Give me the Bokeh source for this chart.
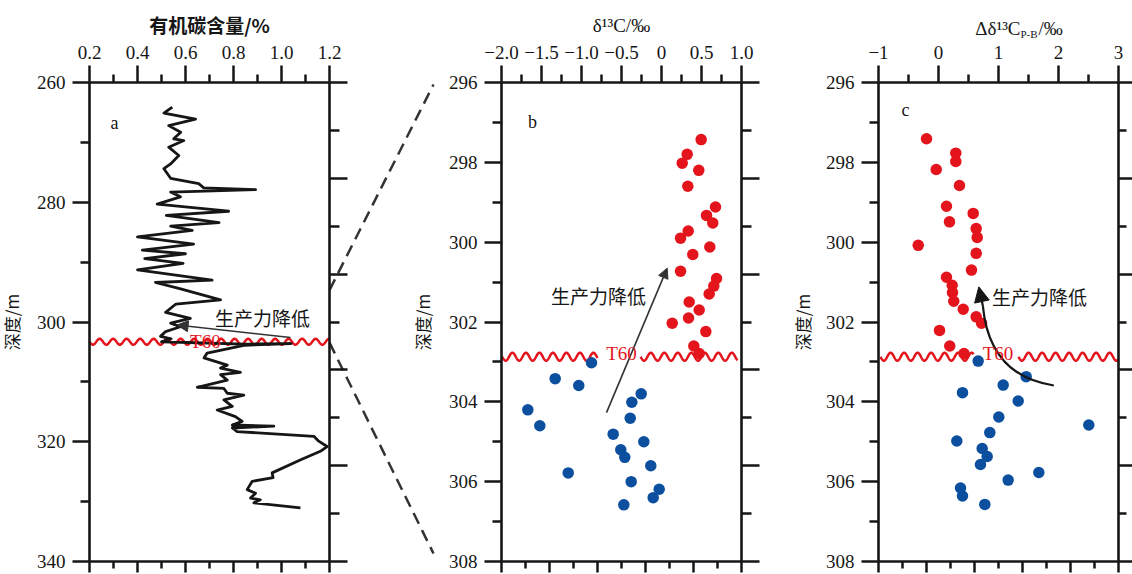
import numpy as np
from bokeh.plotting import figure
from bokeh.models import (Range1d, FixedTicker, LinearAxis, Arrow, NormalHead, Label,
                          CustomLabelingPolicy)
from bokeh.embed import file_html
from bokeh.resources import INLINE

# ---------------- data ----------------
# panel a: total organic carbon (%) vs depth (m)
toc_depth = [264.1, 265.1, 266.1, 267.2, 268.3, 269.4, 269.7, 270.8, 272.2, 273.6,
             274.4, 276.0, 276.9, 277.6, 277.9, 278.3, 279.1, 280.3, 281.5, 282.2,
             283.4, 284.0, 284.7, 285.8, 287.0, 288.0, 288.6, 289.4, 290.2, 291.3,
             293.0, 293.4, 294.4, 296.3, 297.0, 298.4, 299.4, 300.2, 300.8, 301.6,
             302.4, 302.8, 303.3, 303.7, 303.6, 303.9, 305.2, 306.0, 307.2, 307.7,
             308.4, 308.8, 309.7, 310.9, 311.1, 311.9, 312.2, 313.0, 314.1, 314.7,
             315.8, 316.6, 317.2, 317.4, 317.7, 318.3, 319.1, 319.9, 320.8, 321.6,
             323.0, 325.2, 326.0, 326.6, 328.0, 328.6, 329.4, 329.7, 330.2, 331.05]
toc_value = [0.545, 0.51, 0.642, 0.53, 0.58, 0.551, 0.593, 0.53, 0.572, 0.538,
             0.51, 0.538, 0.655, 0.676, 0.892, 0.538, 0.579, 0.482, 0.78, 0.52,
             0.74, 0.538, 0.628, 0.40, 0.634, 0.42, 0.60, 0.43, 0.59, 0.40,
             0.711, 0.475, 0.572, 0.746, 0.56, 0.517, 0.62, 0.538, 0.579, 0.517,
             0.496, 0.54, 0.50, 0.843, 1.04, 0.843, 0.69, 0.677, 0.774, 0.746,
             0.829, 0.746, 0.774, 0.649, 0.76, 0.774, 0.843, 0.76, 0.795, 0.732,
             0.808, 0.836, 0.795, 0.968, 0.795, 0.815, 1.135, 1.155, 1.19, 1.162,
             1.08, 0.961, 0.965, 0.878, 0.857, 0.892, 0.871, 0.912, 0.885, 1.079]

# panel b: d13C (permil), above T60 (red) and below T60 (blue)
b_red_x = [0.496, 0.321, 0.259, 0.466, 0.329, 0.675, 0.563, 0.641, 0.334, 0.238,
           0.604, 0.391, 0.238, 0.688, 0.654, 0.596, 0.346, 0.471, 0.338, 0.134,
           0.554, 0.404, 0.471]
b_red_d = [297.43, 297.80, 298.02, 298.20, 298.60, 299.12, 299.33, 299.52, 299.72, 299.90,
           300.12, 300.31, 300.73, 300.91, 301.10, 301.30, 301.50, 301.70, 301.90, 302.03,
           302.24, 302.60, 302.79]
b_blue_x = [-0.875, -1.329, -1.034, -1.671, -1.521, -0.254, -0.371, -0.391, -0.604, -0.221,
            -0.509, -0.459, -0.134, -1.166, -0.379, -0.029, -0.104, -0.471]
b_blue_d = [303.02, 303.42, 303.59, 304.20, 304.60, 303.80, 304.01, 304.41, 304.81, 305.00,
            305.20, 305.39, 305.60, 305.78, 306.00, 306.19, 306.40, 306.58]

# panel c: delta d13C (P-B)
c_red_x = [-0.20, 0.288, 0.288, -0.038, 0.35, 0.133, 0.578, 0.183, 0.628, 0.645,
           -0.338, 0.628, 0.55, 0.133, 0.228, 0.233, 0.255, 0.412, 0.628, 0.717,
           0.017, 0.188, 0.425]
c_red_d = [297.41, 297.77, 297.98, 298.18, 298.58, 299.10, 299.28, 299.49, 299.66, 299.88,
           300.08, 300.28, 300.70, 300.88, 301.08, 301.26, 301.48, 301.68, 301.87, 302.03,
           302.21, 302.60, 302.79]
c_blue_x = [0.661, 1.461, 1.078, 0.40, 1.328, 1.005, 2.505, 0.855, 0.305, 0.728,
            0.811, 0.70, 1.672, 1.161, 0.367, 0.40, 0.772]
c_blue_d = [302.98, 303.37, 303.58, 303.77, 303.98, 304.38, 304.58, 304.77, 304.98, 305.17,
            305.37, 305.57, 305.77, 305.96, 306.16, 306.36, 306.57]

# axis ticks
a_top_ticks = [0.2, 0.4, 0.6, 0.8, 1.0, 1.2]
a_top_labels = ["0.2", "0.4", "0.6", "0.8", "1.0", "1.2"]
a_top_minor = [0.3, 0.5, 0.7, 0.9, 1.1]
a_left_ticks = [260, 280, 300, 320, 340]
a_left_labels = ["260", "280", "300", "320", "340"]
a_left_minor = [270, 290, 310, 330]
a_right_ticks = [260, 276, 292, 308, 324, 340]
a_right_minor = [268, 284, 300, 316, 332]

b_top_ticks = [-2.0, -1.5, -1.0, -0.5, 0.0, 0.5, 1.0]
b_top_labels = ["\u22122.0", "\u22121.5", "\u22121.0", "\u22120.5", "0", "0.5", "1.0"]
b_top_minor = [-1.75, -1.25, -0.75, -0.25, 0.25, 0.75]
b_bottom_ticks = [-2.0, -1.4, -0.8, -0.2, 0.4, 1.0]
b_bottom_minor = [-1.7, -1.1, -0.5, 0.1, 0.7]

c_top_ticks = [-1, 0, 1, 2, 3]
c_top_labels = ["\u22121", "0", "1", "2", "3"]
c_top_minor = [-0.5, 0.5, 1.5, 2.5]
c_bottom_ticks = [-1.0, -0.2, 0.6, 1.4, 2.2, 3.0]
c_bottom_minor = [-0.6, 0.2, 1.0, 1.8, 2.6]

bc_left_ticks = [296, 298, 300, 302, 304, 306, 308]
bc_left_labels = ["296", "298", "300", "302", "304", "306", "308"]
bc_left_minor = [297, 299, 301, 303, 305, 307]
bc_right_ticks = [296, 298.4, 300.8, 303.2, 305.6, 308]
bc_right_minor = [297.2, 299.6, 302.0, 304.4, 306.8]

# unconformity T60 depth in each panel
t60_a = 303.3
t60_bc = 302.87

# ---------------- layout / style ----------------
SERIF = "Liberation Serif"
CJK = "Noto Sans CJK SC"
INK = "#161616"
RED = "#e3141c"
BLUE = "#0b4f9e"
W, H = 1132, 574
FT, FB = 82, 561                 # frame top / bottom (canvas px)
A_L, A_R = 89, 329               # panel frames (canvas px)
B_L, B_R = 501, 741
C_L, C_R = 878, 1118
A_X, B_X, C_X = (0.2, 1.2), (-2.0, 1.0), (-1.0, 3.0)
A_Y, BC_Y = (260.0, 340.0), (296.0, 308.0)


def x_range(l, r, lim):
    s = (lim[1] - lim[0]) / (r - l)
    return Range1d(lim[0] - l * s, lim[1] + (W - r) * s)


def y_range(lim):
    s = (lim[1] - lim[0]) / (FB - FT)
    return Range1d(lim[1] + (H - FB) * s, lim[0] - FT * s)


def px_to_data(l, r, xlim, ylim, px, py):
    return (xlim[0] + (px - l) * (xlim[1] - xlim[0]) / (r - l),
            ylim[0] + (py - FT) * (ylim[1] - ylim[0]) / (FB - FT))


def data_to_px(l, r, xlim, ylim, x, y):
    return (l + (x - xlim[0]) * (r - l) / (xlim[1] - xlim[0]),
            FT + (y - ylim[0]) * (FB - FT) / (ylim[1] - ylim[0]))


p = figure(width=W, height=H, x_range=x_range(A_L, A_R, A_X), y_range=y_range(A_Y),
           x_axis_type=None, y_axis_type=None, min_border=0,
           output_backend="svg", toolbar_location=None)
p.extra_x_ranges = {"b": x_range(B_L, B_R, B_X), "c": x_range(C_L, C_R, C_X)}
p.extra_y_ranges = {"bc": y_range(BC_Y)}
p.xgrid.visible = False
p.ygrid.visible = False
p.outline_line_color = None
p.background_fill_color = "white"
p.border_fill_color = "white"

NO_LABELS = CustomLabelingPolicy(code="""
try { return new indices.constructor(indices.size, 0) }
catch (e) { for (const i of [...indices]) { indices.unset(i) } return indices }
""")


def style(ax, major, minor, tout, mout, labels=None, standoff=4):
    ax.ticker = FixedTicker(ticks=major, minor_ticks=minor)
    ax.axis_line_width = 2.6
    ax.axis_line_color = INK
    ax.major_tick_line_width = 2.5
    ax.minor_tick_line_width = 2.5
    ax.major_tick_line_color = INK
    ax.minor_tick_line_color = INK
    ax.major_tick_in = 0
    ax.minor_tick_in = 0
    ax.major_tick_out = tout
    ax.minor_tick_out = mout
    if labels is None:
        ax.major_label_policy = NO_LABELS
        ax.major_label_standoff = 0
    else:
        ax.major_label_overrides = {t: l for t, l in zip(major, labels)}
        ax.major_label_text_font = SERIF
        ax.major_label_text_font_size = "19px"
        ax.major_label_text_color = INK
        ax.major_label_standoff = standoff


def panel_axes(xn, yn, xlim, ylim, top, top_minor, top_labels, bottom, bottom_minor,
               left, left_minor, left_labels, right, right_minor, right_len, ylabel_standoff):
    ax = LinearAxis(x_range_name=xn, y_range_name=yn, fixed_location=ylim[0], bounds=xlim)
    style(ax, top, top_minor, 17, 8, top_labels, standoff=7)
    p.add_layout(ax, "above")
    top_axis = ax
    ax = LinearAxis(x_range_name=xn, y_range_name=yn, fixed_location=ylim[1], bounds=xlim)
    style(ax, bottom, bottom_minor, 11, 7)
    p.add_layout(ax, "below")
    ax = LinearAxis(x_range_name=xn, y_range_name=yn, fixed_location=xlim[0], bounds=ylim)
    style(ax, left, left_minor, 17, 9, left_labels, standoff=7)
    ax.axis_label = "深度/m"
    ax.axis_label_text_font = CJK
    ax.axis_label_text_font_size = "17px"
    ax.axis_label_text_font_style = "normal"
    ax.axis_label_text_color = INK
    ax.axis_label_standoff = ylabel_standoff
    p.add_layout(ax, "left")
    ax = LinearAxis(x_range_name=xn, y_range_name=yn, fixed_location=xlim[1], bounds=ylim)
    style(ax, right, right_minor, right_len[0], right_len[1])
    p.add_layout(ax, "right")
    return top_axis


def wave(x0, x1, center, amp, wavelength):
    xs = np.linspace(x0, x1, 400)
    return xs, center + amp * np.sin(2 * np.pi * (xs - x0) / wavelength)


def mark_text(x, y, text, xn="default", yn="default", size="19px", color=INK, font=CJK,
              align="center", baseline="middle"):
    p.add_layout(Label(x=x, y=y, text=text, text_font=font, text_font_size=size,
                       text_color=color, text_align=align, text_baseline=baseline,
                       x_range_name=xn, y_range_name=yn))


PX_PER_M_A = (FB - FT) / (A_Y[1] - A_Y[0])
PX_PER_M_BC = (FB - FT) / (BC_Y[1] - BC_Y[0])

# ---------------- panel a ----------------
ta = panel_axes("default", "default", A_X, A_Y, a_top_ticks, a_top_minor, a_top_labels,
                a_top_ticks, a_top_minor, a_left_ticks, a_left_minor, a_left_labels,
                a_right_ticks, a_right_minor, (18, 10), 10)
ta.axis_label = "有机碳含量/%"
ta.axis_label_text_font = CJK
ta.axis_label_text_font_size = "19px"
ta.axis_label_text_font_style = "bold"
ta.axis_label_text_color = INK
ta.axis_label_standoff = 5

wx, wy = wave(A_X[0], A_X[1], t60_a, 3.0 / PX_PER_M_A, 13.5 / (A_R - A_L))
p.line(wx, wy, line_color=RED, line_width=2.5)
p.line(toc_value, toc_depth, line_color=INK, line_width=2.8, line_join="round")
p.add_layout(Arrow(end=NormalHead(size=11, fill_color="#333333", line_color="#333333"),
                   x_start=1.0375, y_start=302.6, x_end=0.565, y_end=300.5,
                   line_color="#333333", line_width=1.6))
mark_text(0.921, 299.2, "生产力降低")
mark_text(0.683, 303.2, "T60", color=RED, font=SERIF)
mark_text(0.304, 266.8, "a", size="18px", font=SERIF)

# ---------------- panel b ----------------
tb = panel_axes("b", "bc", B_X, BC_Y, b_top_ticks, b_top_minor, b_top_labels,
                b_bottom_ticks, b_bottom_minor, bc_left_ticks, bc_left_minor, bc_left_labels,
                bc_right_ticks, bc_right_minor, (18, 10), 11)
tb.axis_label = "δ¹³C/‰"
tb.axis_label_text_font = SERIF
tb.axis_label_text_font_size = "19px"
tb.axis_label_text_font_style = "normal"
tb.axis_label_text_color = INK
tb.axis_label_standoff = 7

for seg in [(-1.99, -0.80), (-0.26, 0.95)]:
    wx, wy = wave(seg[0], seg[1], t60_bc, 4.0 / PX_PER_M_BC, 13.5 / 80.0)
    p.line(wx, wy, line_color=RED, line_width=2.5, x_range_name="b", y_range_name="bc")
p.scatter(b_red_x, b_red_d, size=11.5, fill_color=RED, line_color=None,
          x_range_name="b", y_range_name="bc")
p.scatter(b_blue_x, b_blue_d, size=11.5, fill_color=BLUE, line_color=None,
          x_range_name="b", y_range_name="bc")
p.add_layout(Arrow(end=NormalHead(size=10, fill_color="#333333", line_color="#333333"),
                   x_start=-0.6875, y_start=304.27, x_end=0.071, y_end=300.65,
                   line_color="#333333", line_width=1.6, x_range_name="b", y_range_name="bc"))
mark_text(-0.7875, 301.33, "生产力降低", "b", "bc")
mark_text(-0.5, 302.8, "T60", "b", "bc", color=RED, font=SERIF)
mark_text(-1.6125, 296.98, "b", "b", "bc", size="18px", font=SERIF)

# ---------------- panel c ----------------
panel_axes("c", "bc", C_X, BC_Y, c_top_ticks, c_top_minor, c_top_labels,
           c_bottom_ticks, c_bottom_minor, bc_left_ticks, bc_left_minor, bc_left_labels,
           bc_right_ticks, bc_right_minor, (14, 8), 8)

for seg in [(-0.967, 0.583), (1.333, 3.0)]:
    wx, wy = wave(seg[0], seg[1], t60_bc, 4.0 / PX_PER_M_BC, 13.5 / 60.0)
    p.line(wx, wy, line_color=RED, line_width=2.5, x_range_name="c", y_range_name="bc")
p.scatter(c_red_x, c_red_d, size=11.5, fill_color=RED, line_color=None,
          x_range_name="c", y_range_name="bc")
p.scatter(c_blue_x, c_blue_d, size=11.5, fill_color=BLUE, line_color=None,
          x_range_name="c", y_range_name="bc")
# curved arrow
p.quadratic(x0=[1.922], y0=[303.59], x1=[0.74], y1=[301.6], cx=[0.85], cy=[303.35],
            line_color=INK, line_width=2.2, x_range_name="c", y_range_name="bc")
p.add_layout(Arrow(end=NormalHead(size=15, fill_color=INK, line_color=INK),
                   x_start=0.74, y_start=301.6, x_end=0.672, y_end=301.12,
                   line_color=INK, line_width=2.2, x_range_name="c", y_range_name="bc"))
mark_text(1.683, 301.35, "生产力降低", "c", "bc")
mark_text(0.992, 302.8, "T60", "c", "bc", color=RED, font=SERIF)
mark_text(-0.55, 296.7, "c", "c", "bc", size="18px", font=SERIF)

# panel c title with subscript (placed above the frame)
tx, ty = px_to_data(C_L, C_R, C_X, BC_Y, C_L + 142, 28)
_, ty_sub = px_to_data(C_L, C_R, C_X, BC_Y, 0, 33)
tx2, _ = px_to_data(C_L, C_R, C_X, BC_Y, C_L + 160, 0)
mark_text(tx, ty, "Δδ¹³C", "c", "bc", font=SERIF, align="right", baseline="alphabetic")
mark_text(tx, ty_sub, "P-B", "c", "bc", size="11px", font=SERIF, align="left",
          baseline="alphabetic")
mark_text(tx2, ty, "/‰", "c", "bc", font=SERIF, align="left", baseline="alphabetic")

# ---------------- dashed connectors between a and b ----------------
for a_pt, b_pt in [((1.2, 294.67), (-2.85, 296.05)), ((1.2, 303.45), (-2.85, 307.8))]:
    bpx = data_to_px(B_L, B_R, B_X, BC_Y, *b_pt)
    b_in_a = px_to_data(A_L, A_R, A_X, A_Y, *bpx)
    p.line([a_pt[0], b_in_a[0]], [a_pt[1], b_in_a[1]], line_color="#333333",
           line_width=2.5, line_dash="12 7")

open("out.html", "w").write(file_html(p, INLINE))
